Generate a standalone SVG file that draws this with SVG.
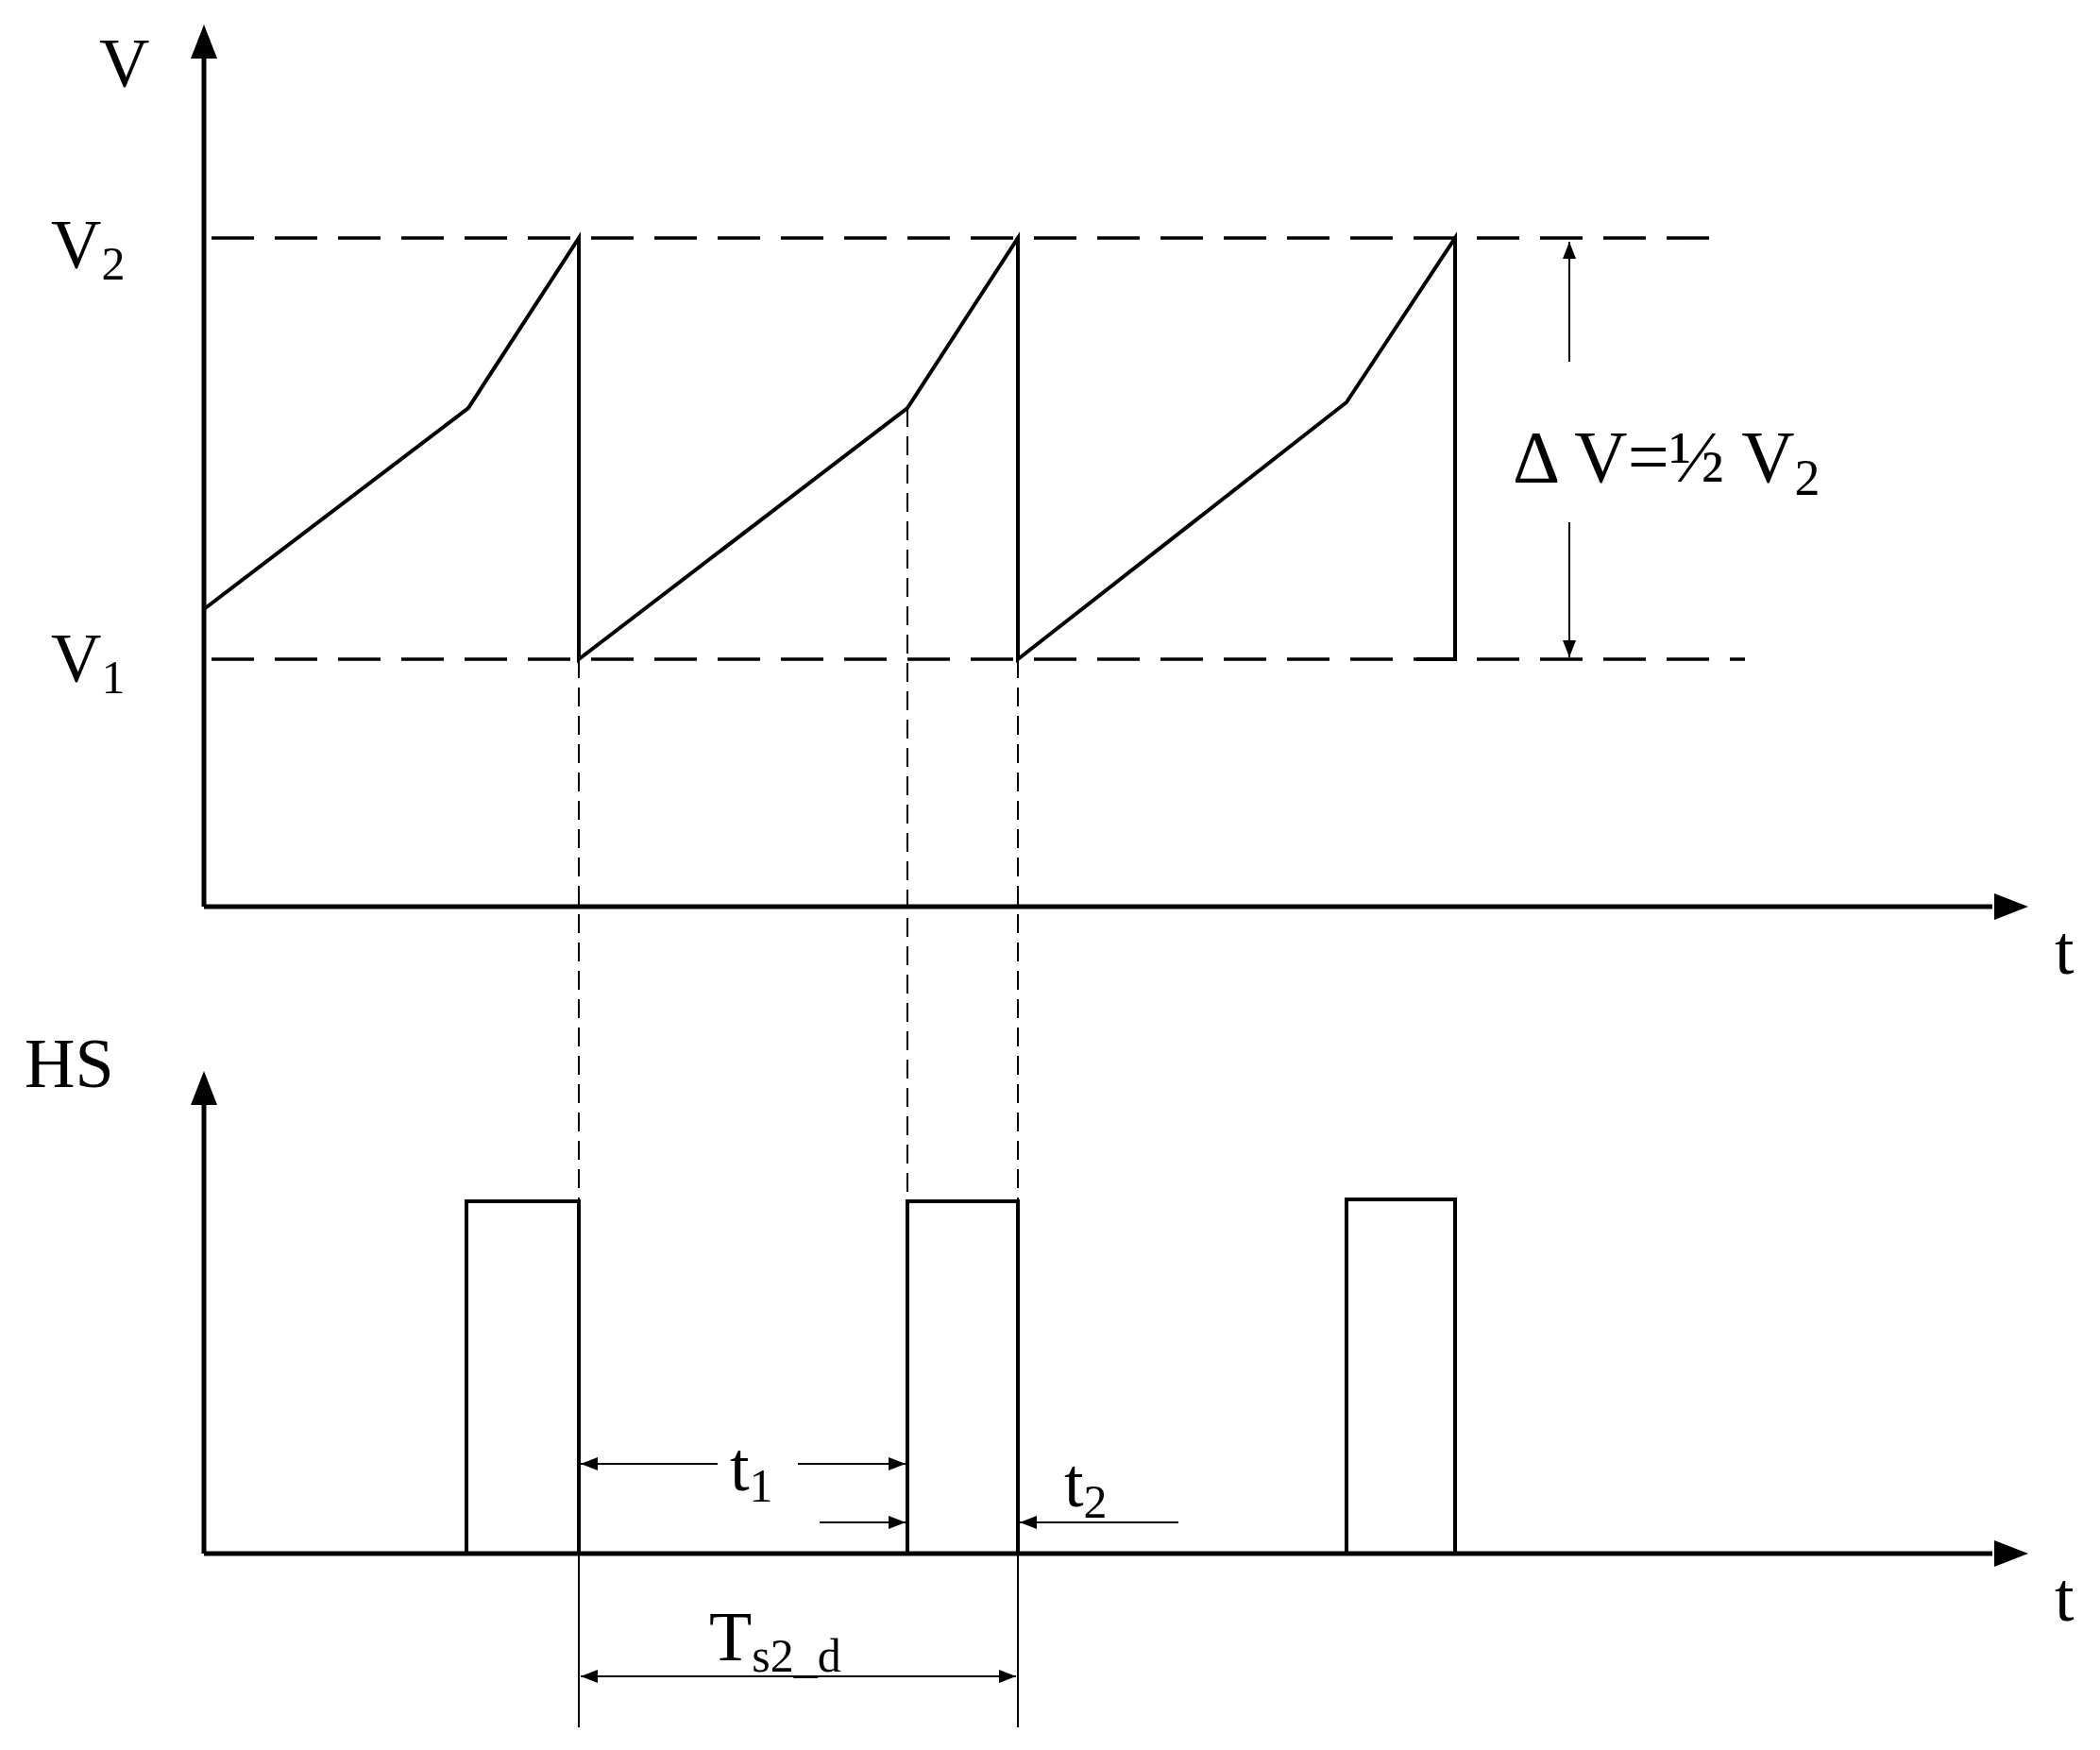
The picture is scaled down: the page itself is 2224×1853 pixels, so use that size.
<svg xmlns="http://www.w3.org/2000/svg" width="2224" height="1853" viewBox="0 0 2224 1853">
<style>
text{font-family:"Liberation Serif","Times New Roman",serif;fill:#000;font-size:74px}
.sub{font-size:50px}
.ax{stroke:#000;stroke-width:5;fill:none}
.w{stroke:#000;stroke-width:4;fill:none}
.dh{stroke:#000;stroke-width:3.5;stroke-dasharray:45 22;fill:none}
.dv{stroke:#000;stroke-width:2;stroke-dasharray:20 10;fill:none}
.th{stroke:#000;stroke-width:2;fill:none}
</style>
<defs>
<marker id="sm" markerWidth="18" markerHeight="14" refX="18" refY="7" orient="auto" markerUnits="userSpaceOnUse"><path d="M0,0 L18,7 L0,14 z"/></marker>
</defs>
<g id="axes">
<path class="ax" d="M216,960 V60"/><path d="M216,26 L202,62 L230,62 z"/>
<path class="ax" d="M216,960 H2110"/><path d="M2148,960 L2112,946 L2112,974 z"/>
<path class="ax" d="M216,1645 V1168"/><path d="M216,1134 L202,1170 L230,1170 z"/>
<path class="ax" d="M216,1645 H2110"/><path d="M2148,1645 L2112,1631 L2112,1659 z"/>
</g>
<g id="labels">
<text x="105" y="92">V</text>
<text x="54" y="284">V<tspan class="sub" dy="12">2</tspan></text>
<text x="54" y="722">V<tspan class="sub" dy="12">1</tspan></text>
<text x="2176" y="1031">t</text>
<text x="26" y="1151">HS</text>
<text x="2176" y="1716">t</text>
<text x="1602" y="510" style="font-size:78px">Δ V=½ V<tspan class="sub" dy="14" style="font-size:54px">2</tspan></text>
<text x="773" y="1578">t<tspan class="sub" dy="12">1</tspan></text>
<text x="1127" y="1595">t<tspan class="sub" dy="12">2</tspan></text>
<text x="751" y="1758">T<tspan class="sub" dy="12">s2_d</tspan></text>
</g>
<g id="refs">
<path class="dh" d="M224,252 H1830"/>
<path class="dh" d="M224,698 H1848"/>
<path class="dv" d="M613,698 V1272 M961,432 V1272 M1078,698 V1272"/>
</g>
<g id="waveform">
<path class="w" d="M216,645 L496,432 L613,252 V698 L961,432 L1078,252 V698 L1426,426 L1541,252 V698 H1500"/>
<path class="w" d="M494,1645 V1272 H613 V1645 M961,1645 V1272 H1078 V1645 M1426,1645 V1270 H1541 V1645"/>
</g>
<g id="connectors">
<path class="th" d="M1662,383 V256" marker-end="url(#sm)"/>
<path class="th" d="M1662,553 V696" marker-end="url(#sm)"/>
<path class="th" d="M760,1550 H615" marker-end="url(#sm)"/>
<path class="th" d="M845,1550 H959" marker-end="url(#sm)"/>
<path class="th" d="M868,1612 H959" marker-end="url(#sm)"/>
<path class="th" d="M1248,1612 H1080" marker-end="url(#sm)"/>
<path class="th" d="M613,1645 V1829 M1078,1645 V1829"/>
<path class="th" d="M845,1775 H615" marker-end="url(#sm)"/>
<path class="th" d="M845,1775 H1076" marker-end="url(#sm)"/>
</g>
</svg>
